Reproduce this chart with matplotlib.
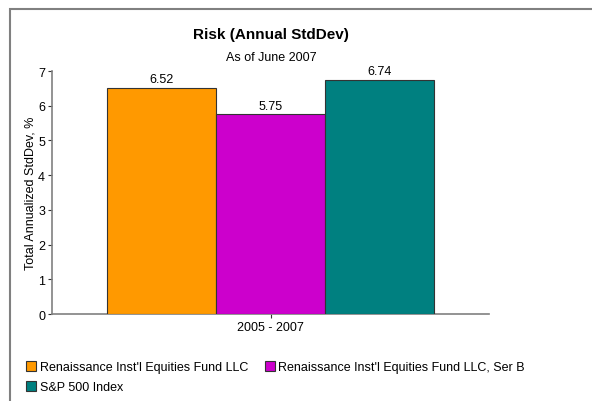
import matplotlib.pyplot as plt
from matplotlib.patches import Rectangle
from matplotlib.lines import Line2D

plt.rcParams['font.family'] = ['Liberation Sans', 'DejaVu Sans']

# data
period = "2005 - 2007"
series = ["Renaissance Inst'l Equities Fund LLC",
          "Renaissance Inst'l Equities Fund LLC, Ser B",
          "S&P 500 Index"]
values = [6.52, 5.75, 6.74]
colors = ['#FF9900', '#CC00CC', '#008080']
offsets = [-1, 0, 1]

fig = plt.figure(figsize=(5.92, 4.02), dpi=100)
ax = fig.add_axes([52/592, 1 - 315/402, (489 - 52)/592, (315 - 72)/402])

# outer frame (left + top only visible)
fig.add_artist(Rectangle((10/592, -0.1), 1.2, 1 - 10/402 + 0.1, transform=fig.transFigure,
                         fill=False, edgecolor='#808080', linewidth=1.5))

for off, v, c in zip(offsets, values, colors):
    ax.bar(off, v, width=1, color=c, edgecolor='#333333', linewidth=0.8, zorder=3)
    ax.text(off, v + 0.08, f'{v:.2f}', ha='center', va='bottom', fontsize=9)

ax.set_xlim(-2, 2)
ax.set_ylim(0, 7)
ax.set_yticks(range(0, 8))
ax.set_xticks([0])
ax.set_xticklabels([period])
ax.tick_params(axis='both', labelsize=9, length=3, width=0.8, color='#333333', pad=2)
for s in ['top', 'right']:
    ax.spines[s].set_visible(False)
for s in ['left', 'bottom']:
    ax.spines[s].set_color('#808080')
    ax.spines[s].set_linewidth(1.2)
ax.set_ylabel('Total Annualized StdDev, %', fontsize=9, labelpad=1)

fig.text(271/592, 1 - 35/402, 'Risk (Annual StdDev)', ha='center', va='center',
         fontsize=11, fontweight='bold')
fig.text(271/592, 1 - 58/402, 'As of June 2007', ha='center', va='center', fontsize=9)

handles = [Line2D([], [], marker='s', linestyle='none', markersize=7,
                  markerfacecolor=c, markeredgecolor='#333333', markeredgewidth=0.8)
           for c in colors]
order = [0, 2, 1]
fig.legend([handles[i] for i in order], [series[i] for i in order],
           loc='upper left', bbox_to_anchor=(20/592, 1 - 357/402), ncol=2, frameon=False,
           fontsize=9, handletextpad=0.2, handlelength=1.0, columnspacing=1.2,
           labelspacing=0.65, borderaxespad=0)

fig.savefig('out.png', dpi=100)
